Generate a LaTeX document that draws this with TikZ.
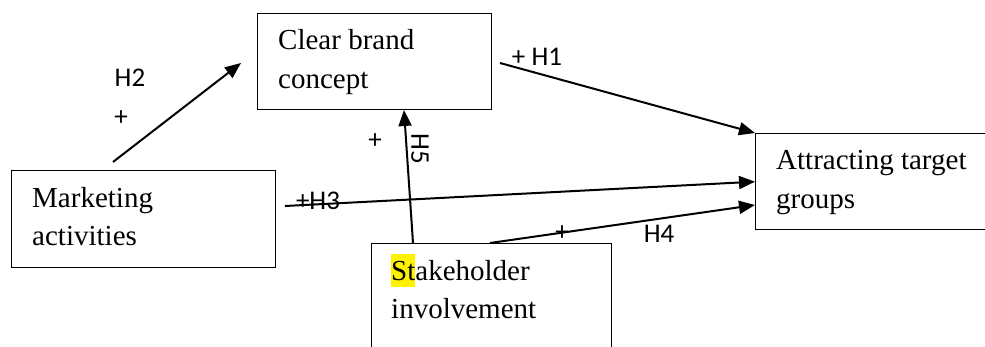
\documentclass[tikz,border=0pt]{standalone}
\usepackage{fontspec}
\setmainfont{Liberation Serif}
\newfontfamily\lblfont{Carlito}
\usetikzlibrary{arrows.meta,calc}
\begin{document}
\begin{tikzpicture}[x=1pt,y=-1pt,
  box/.style={draw,line width=1.4pt,rectangle,inner sep=0pt,anchor=north west},
  boxtext/.style={anchor=base west,inner sep=0pt,font=\fontsize{29}{39}\selectfont},
  lbl/.style={inner sep=0pt,font=\lblfont\fontsize{27}{30}\selectfont},
  arr/.style={line width=2pt,-{Triangle[length=16pt,width=13pt]}}]
\useasboundingbox (0,0) rectangle (985,347);
\clip (0,0) rectangle (985,347);
% boxes
\node[box,minimum width=234pt,minimum height=96pt] (cbc) at (257,13) {};
\node[box,minimum width=264pt,minimum height=97pt] (ma) at (11,170) {};
\node[box,minimum width=240pt,minimum height=104pt] (sh) at (371,243) {};
\node[box,minimum width=240pt,minimum height=96pt] (att) at (755,133) {};
% box texts
\node[boxtext] (t1a) at (278,50) {Clear brand};
\node[boxtext] (t1b) at (278,89) {concept};
\node[boxtext] (t2a) at (32,208) {Marketing};
\node[boxtext] (t2b) at (32,246) {activities};
\node[boxtext] (t3a) at (391,280) {{\setlength{\fboxsep}{0pt}\colorbox{yellow}{\rule[-0.25em]{0pt}{1.15em}St}}akeholder};
\node[boxtext] (t3b) at (391,319) {involvement};
\node[boxtext] (t4a) at (776,170) {Attracting target};
\node[boxtext] (t4b) at (776,209) {groups};
% connector free ends
\coordinate (h2s) at (113,162);
\coordinate (h2e) at (241,63);
\coordinate (h1s) at (500,63);
\coordinate (h3s) at (285,206);
\coordinate (h4s) at (490,243);
\coordinate (h4e) at (755,205);
\coordinate (h5s) at (413,243);
\coordinate (h5e) at (404,110);
% connectors
\draw[arr] (h2s) -- (h2e);
\draw[arr] (h1s) -- (att.north west);
\draw[arr] (h3s) -- (att.west);
\draw[arr] (h4s) -- (h4e);
\draw[arr] (h5s) -- (h5e);
% labels
\node[lbl] (lh2) at (130,78) {H2};
\node[lbl] (lp2) at (121,118) {+};
\node[lbl] (lh1) at (537,57) {+ H1};
\node[lbl] (lh3) at (318,201) {+H3};
\node[lbl] (lp5) at (375,141) {+};
\node[lbl,rotate=-90] (lh5) at (420,149) {H5};
\node[lbl] (lp4) at (562,233) {+};
\node[lbl] (lh4) at (659,234) {H4};
\end{tikzpicture}
\end{document}
